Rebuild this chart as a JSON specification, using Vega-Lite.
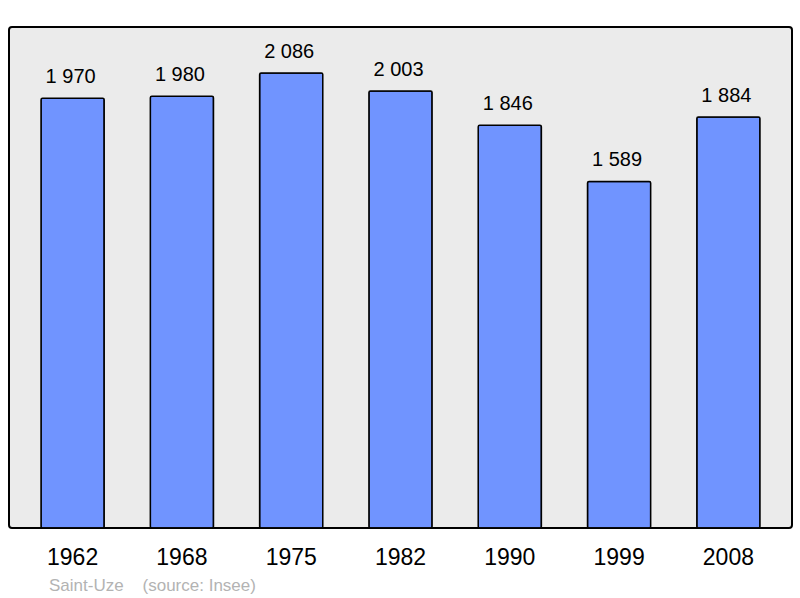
{
  "$schema": "https://vega.github.io/schema/vega-lite/v6.json",
  "width": 783,
  "height": 501,
  "autosize": {"type": "none"},
  "padding": {"left": 9, "top": 27, "right": 8, "bottom": 70},
  "background": "#ffffff",
  "config": {
    "view": {"fill": "#ebebeb", "stroke": "#000000", "strokeWidth": 2, "cornerRadius": 3},
    "font": "Liberation Sans"
  },
  "title": {
    "text": "Saint-Uze\u00a0\u00a0\u00a0\u00a0(source: Insee)",
    "orient": "bottom",
    "anchor": "start",
    "frame": "group",
    "dx": 40,
    "offset": 9,
    "fontSize": 17,
    "fontWeight": "normal",
    "color": "#b3b3b3",
    "font": "Liberation Sans"
  },
  "data": {
    "values": [
      {"year": "1962", "population": 1970, "label": "1 970"},
      {"year": "1968", "population": 1980, "label": "1 980"},
      {"year": "1975", "population": 2086, "label": "2 086"},
      {"year": "1982", "population": 2003, "label": "2 003"},
      {"year": "1990", "population": 1846, "label": "1 846"},
      {"year": "1999", "population": 1589, "label": "1 589"},
      {"year": "2008", "population": 1884, "label": "1 884"}
    ]
  },
  "encoding": {
    "x": {
      "field": "year",
      "type": "nominal",
      "sort": null,
      "scale": {"paddingInner": 0.422, "paddingOuter": 0.293},
      "axis": {
        "title": null,
        "domain": false,
        "ticks": false,
        "labelAngle": 0,
        "labelFontSize": 23,
        "labelColor": "#000000",
        "labelBaseline": "alphabetic",
        "labelPadding": 36,
        "labelFont": "Liberation Sans"
      }
    },
    "y": {
      "field": "population",
      "type": "quantitative",
      "scale": {"domain": [0, 2297], "nice": false},
      "axis": null
    }
  },
  "layer": [
    {
      "mark": {"type": "bar", "color": "#7094ff", "stroke": "#000000", "strokeWidth": 1.5, "cornerRadius": 1.5}
    },
    {
      "mark": {"type": "text", "dy": -15, "dx": -2, "baseline": "alphabetic", "align": "center", "fontSize": 20, "color": "#000000", "font": "Liberation Sans"},
      "encoding": {"text": {"field": "label"}}
    }
  ]
}
